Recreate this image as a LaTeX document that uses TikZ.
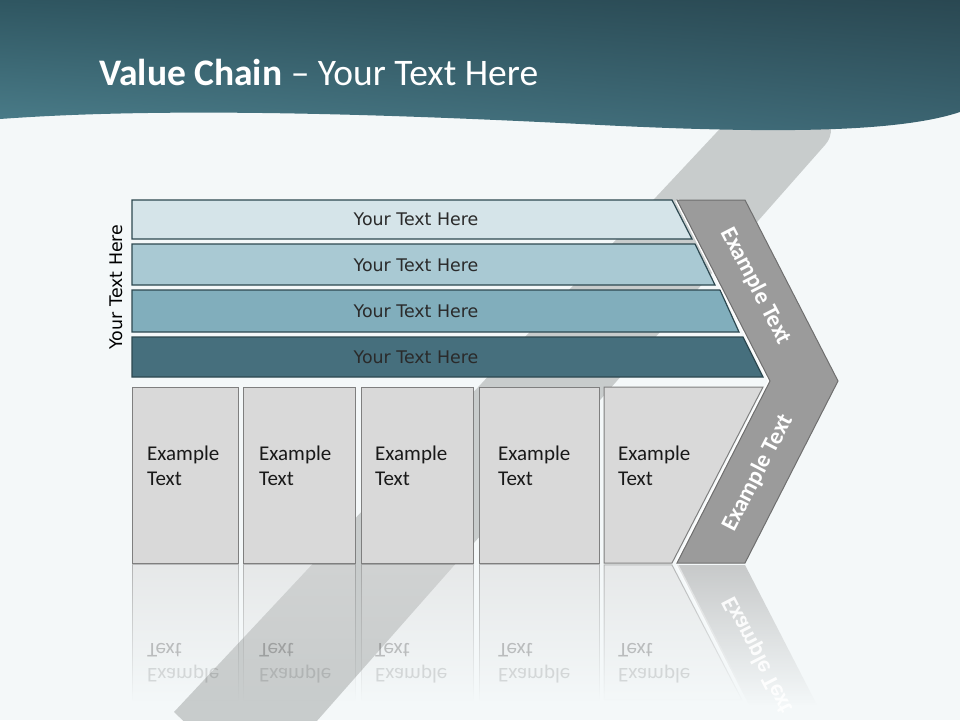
\documentclass[tikz,border=0pt]{standalone}
\usepackage{fontspec}
\setmainfont{Carlito}
\newfontfamily\dvs{DejaVu Sans}
\usetikzlibrary{fadings,shadings}
\definecolor{bg}{HTML}{F4F8F9}
\definecolor{bandc}{HTML}{C8CCCC}
\definecolor{hUL}{HTML}{2F5661}
\definecolor{hUR}{HTML}{2A4852}
\definecolor{hLL}{HTML}{4C7F8C}
\definecolor{hLR}{HTML}{3C6673}
\definecolor{row1}{HTML}{D5E4E9}
\definecolor{row2}{HTML}{A9C9D3}
\definecolor{row3}{HTML}{81AEBC}
\definecolor{row4}{HTML}{466F7D}
\definecolor{rowb}{HTML}{2D4850}
\definecolor{rowtext}{HTML}{2A2A2A}
\definecolor{boxc}{HTML}{D9D9D9}
\definecolor{boxb}{HTML}{7F7F7F}
\definecolor{chev}{HTML}{9B9B9B}
\definecolor{chevb}{HTML}{6F6F6F}
\tikzfading[name=reflfade, top color=transparent!50, bottom color=transparent!100]
\tikzset{
  rowshape/.style={draw=rowb, line width=1.2},
  rowtxt/.style={font=\dvs\fontsize{17.4}{21}\selectfont, text=rowtext, inner sep=0},
  boxshape/.style={fill=boxc, draw=boxb, line width=1},
  reflshape/.style={fill=boxc, draw=boxb, line width=1, path fading=reflfade},
  boxtxt/.style={font=\fontsize{21}{25}\selectfont, text=black!90, inner sep=0, anchor=base west},
  refltxt/.style={font=\fontsize{21}{25}\selectfont, text=black, inner sep=0, anchor=base west, yscale=-1},
  chevtxt/.style={font=\bfseries\fontsize{23.5}{27}\selectfont, text=white, inner sep=0},
}
\begin{document}
\begin{tikzpicture}[x=1pt,y=-1pt]
\useasboundingbox (0,0) rectangle (960,720);
\clip (0,0) rectangle (960,720);
\fill[bg] (0,0) rectangle (960,720);
% background diagonal band
\fill[bandc] (256,790) -- (174,712) -- (774,71) [rounded corners=22] -- (840,128) -- cycle;
% header
\shade[upper left=hUL, upper right=hUR, lower left=hLL, lower right=hLR]
  (0,0) -- (960,0) -- (960,112) .. controls (900,132) and (780,134) .. (600,125)
  .. controls (350,112) and (150,108) .. (0,119) -- cycle;
\node[anchor=base west, text=white, font=\fontsize{37.5}{42}\selectfont, inner sep=0] (title) at (99,85) {\textbf{Value Chain} – Your Text Here};
% rows
\path[rowshape, fill=row1] (132,200) -- (672,200) -- (692,239) -- (132,239) -- cycle;
\path[rowshape, fill=row2] (132,244) -- (695,244) -- (715,285) -- (132,285) -- cycle;
\path[rowshape, fill=row3] (132,290) -- (720,290) -- (739,332) -- (132,332) -- cycle;
\path[rowshape, fill=row4] (132,337) -- (743,337) -- (763,377) -- (132,377) -- cycle;
\node[rowtxt] (r1) at (416,219) {Your Text Here};
\node[rowtxt] (r2) at (416,265) {Your Text Here};
\node[rowtxt] (r3) at (416,311) {Your Text Here};
\node[rowtxt] (r4) at (416,357) {Your Text Here};
\node[rowtxt, text=black, rotate=90] (side) at (116,287) {Your Text Here};
% chevron
\draw[white, line width=4] (677,200) -- (770,381) -- (677,563);
\path[fill=chev, draw=chevb, line width=1] (677,200) -- (745,200) -- (838,381) -- (745,563) -- (677,563) -- (770,381) -- cycle;
\node[chevtxt, rotate=-62.7] (c1) at (756,286) {Example Text};
\node[chevtxt, rotate=62.7] (c2) at (758,473) {Example Text};
% boxes
\path[boxshape] (132,387) rectangle (238,563);
\path[boxshape] (243,387) rectangle (355,563);
\path[boxshape] (361,387) rectangle (473,563);
\path[boxshape] (479,387) rectangle (599,563);
\path[boxshape] (604,387) -- (763,387) -- (672,563) -- (604,563) -- cycle;
\foreach \x/\n in {147/1,259/2,375/3,498/4,618/5}{
  \node[boxtxt] (e\n) at (\x,460) {Example};
  \node[boxtxt] (t\n) at (\x,485) {Text};
}
% reflections
\path[reflshape] (132,565) rectangle (238,700);
\path[reflshape] (243,565) rectangle (355,700);
\path[reflshape] (361,565) rectangle (473,700);
\path[reflshape] (479,565) rectangle (599,700);
\path[reflshape] (604,565) -- (672,565) -- (742,700) -- (604,700) -- cycle;
\path[fill=chev, path fading=reflfade] (677,565) -- (745,565) -- (817,705) -- (749,705) -- cycle;
\path[draw=white, line width=3, path fading=reflfade] (677,565) -- (749,705);
\foreach \x/\n in {147/1,259/2,375/3,498/4,618/5}{
  \node[refltxt, text opacity=0.12] (re\n) at (\x,668) {Example};
  \node[refltxt, text opacity=0.22] (rt\n) at (\x,643) {Text};
}
\node[chevtxt, yscale=-1, rotate=62.7, text opacity=0.9] (rc) at (758,655) {Example Text};
\end{tikzpicture}
\end{document}
